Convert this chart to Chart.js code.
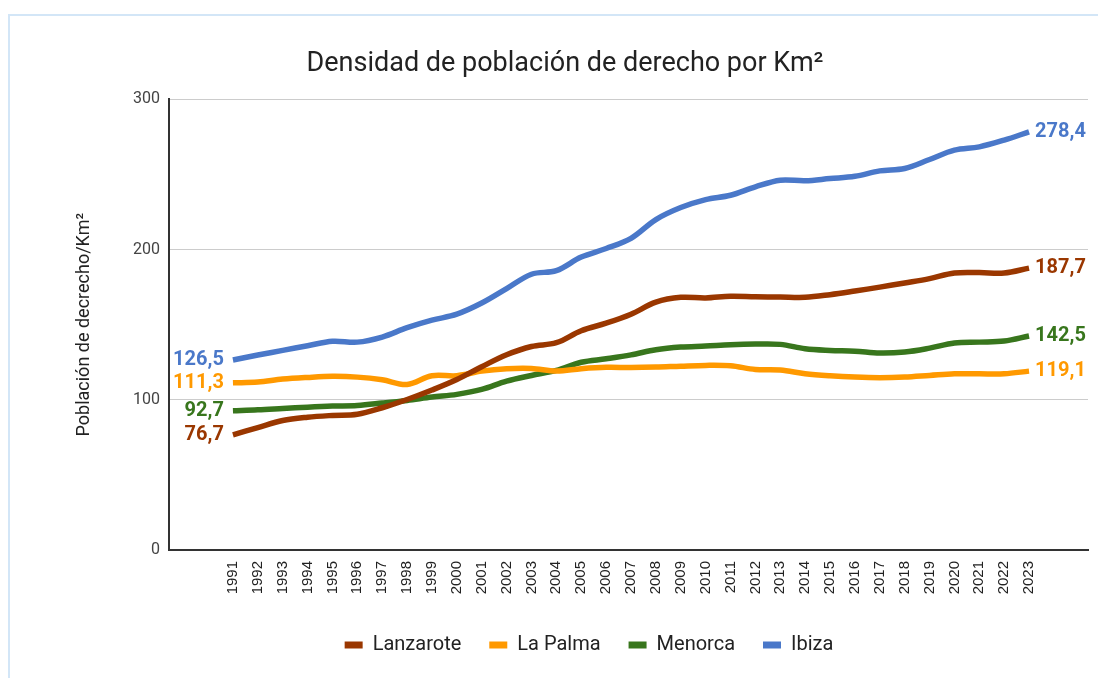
<!DOCTYPE html>
<html>
<head>
<meta charset="utf-8">
<script src="https://cdn.jsdelivr.net/npm/chart.js@4.4.1/dist/chart.umd.min.js"></script>
<style>
  html, body { margin: 0; padding: 0; background: #ffffff; overflow: hidden; }
  #frame { position: absolute; left: 8px; top: 14px; width: 2000px; height: 2000px;
           border-left: 2px solid #d3e6f7; border-top: 2px solid #d3e6f7; z-index: 0; }
  #c { position: absolute; left: 0; top: 0; z-index: 1; }
</style>
</head>
<body>
<div id="frame"></div>
<canvas id="c" width="1098" height="678"></canvas>
<script>
const years = [1991,1992,1993,1994,1995,1996,1997,1998,1999,2000,2001,2002,2003,2004,2005,2006,2007,2008,2009,2010,2011,2012,2013,2014,2015,2016,2017,2018,2019,2020,2021,2022,2023];

const lanzarote = [76.7,81.5,86.2,88.4,89.6,90.4,94.7,100.2,106.5,113.5,122,130,135.5,138,146,151,157,165,168.2,167.8,169,168.6,168.4,168.2,170,172.4,175,177.8,180.7,184.4,184.7,184.4,187.7];
const laPalma   = [111.3,111.8,113.8,114.9,115.6,115.1,113.3,110.2,116,116,119.1,120.7,120.9,119.2,120.7,121.6,121.5,121.8,122.4,122.9,122.6,120.2,119.8,117.4,116,115.1,114.7,115.1,116.2,117.3,117.3,117.3,119.1];
const menorca   = [92.7,93.3,94.2,95.1,95.8,96.2,97.8,99.6,101.8,103.6,106.9,112.4,116.2,119.6,125,127.3,129.9,133.3,135.1,135.8,136.7,137.1,136.9,134,132.9,132.4,131.1,131.8,134.4,137.8,138.4,139.1,142.5];
const ibiza     = [126.5,129.8,132.9,136,139,138.4,141.8,148,153,157,164.4,174,183.6,186,195,200.7,207.5,220,228,233.3,236.2,241.8,246.2,245.8,247.3,248.8,252.4,254,260,266.2,268.4,272.9,278.4];

const seriesNames = ["Lanzarote", "La Palma", "Menorca", "Ibiza"];
const seriesColors = ["#9a3700", "#ff9900", "#38761d", "#4a78c9"];
const yTicks = [0, 100, 200, 300];

const titleText = "Densidad de población de derecho por Km²";
const yTitleText = "Población de decrecho/Km²";

const seriesData = [lanzarote, laPalma, menorca, ibiza];

function fmt(v) { return v.toFixed(1).replace('.', ','); }

const endLabels = {
  id: 'endLabels',
  afterDatasetsDraw(chart) {
    const ctx = chart.ctx;
    ctx.save();
    ctx.font = 'bold 20px Roboto';
    ctx.textBaseline = 'middle';
    chart.data.datasets.forEach((ds, i) => {
      const meta = chart.getDatasetMeta(i);
      const pts = meta.data;
      const first = pts[0], last = pts[pts.length - 1];
      ctx.fillStyle = ds.borderColor;
      ctx.textAlign = 'right';
      ctx.fillText(fmt(ds.data[0].y), first.x - 9, first.y);
      ctx.textAlign = 'left';
      ctx.fillText(fmt(ds.data[ds.data.length - 1].y), last.x + 6, last.y);
    });
    ctx.restore();
  }
};

const shiftBoxes = {
  id: 'shiftBoxes',
  afterLayout(chart) {
    if (chart.titleBlock) { chart.titleBlock.left += 11; chart.titleBlock.right += 11; }
    if (chart.legend) { chart.legend.left += 35; chart.legend.right += 35; }
  }
};

new Chart(document.getElementById('c'), {
  type: 'line',
  data: {
    datasets: seriesData.map((arr, i) => ({
      label: seriesNames[i],
      data: arr.map((v, j) => ({ x: years[j], y: v })),
      borderColor: seriesColors[i],
      backgroundColor: seriesColors[i],
      borderWidth: 5.5,
      pointRadius: 0,
      pointHoverRadius: 0,
      tension: 0.35,
      fill: false
    }))
  },
  plugins: [endLabels, shiftBoxes],
  options: {
    responsive: false,
    animation: false,
    events: [],
    layout: { padding: { left: 20, right: 10, top: 0, bottom: 13 } },
    plugins: {
      tooltip: { enabled: false },
      title: {
        display: true,
        text: titleText,
        color: '#222222',
        font: { family: 'Roboto', size: 27, weight: 'normal' },
        padding: { top: 48, bottom: 19 }
      },
      legend: {
        position: 'bottom',
        labels: {
          boxWidth: 18,
          boxHeight: 7,
          padding: 28,
          color: '#222222',
          font: { family: 'Roboto', size: 20 },
          generateLabels(chart) {
            return Chart.defaults.plugins.legend.labels.generateLabels(chart).map(l => Object.assign(l, { lineWidth: 0, fillStyle: l.strokeStyle }));
          }
        }
      }
    },
    scales: {
      x: {
        type: 'linear',
        min: years[0] - 2.57,
        max: years[years.length - 1] + 2.37,
        afterBuildTicks(scale) { scale.ticks = years.map(v => ({ value: v })); },
        afterFit(scale) { scale.height = 57; },
        grid: { display: false, drawTicks: false },
        border: { display: true, color: '#333333', width: 2 },
        ticks: {
          autoSkip: false,
          minRotation: 90,
          maxRotation: 90,
          padding: 11,
          color: '#222222',
          font: { family: 'Liberation Sans', size: 15 },
          callback: (v) => String(v)
        }
      },
      y: {
        min: 0,
        max: 300,
        afterBuildTicks(scale) { scale.ticks = yTicks.map(v => ({ value: v })); },
        afterFit(scale) { scale.width = 149; },
        grid: {
          drawTicks: false,
          color: (c) => (c.tick && c.tick.value === 0) ? 'rgba(0,0,0,0)' : '#cccccc',
          lineWidth: 1
        },
        border: { display: true, color: '#333333', width: 2 },
        ticks: {
          padding: 9,
          color: '#444444',
          font: { family: 'Roboto', size: 16 },
          callback: (v) => String(v)
        },
        title: {
          display: true,
          text: yTitleText,
          color: '#222222',
          font: { family: 'Roboto', size: 18 },
          padding: { top: 54, bottom: 0 }
        }
      }
    }
  }
});
</script>
</body>
</html>
